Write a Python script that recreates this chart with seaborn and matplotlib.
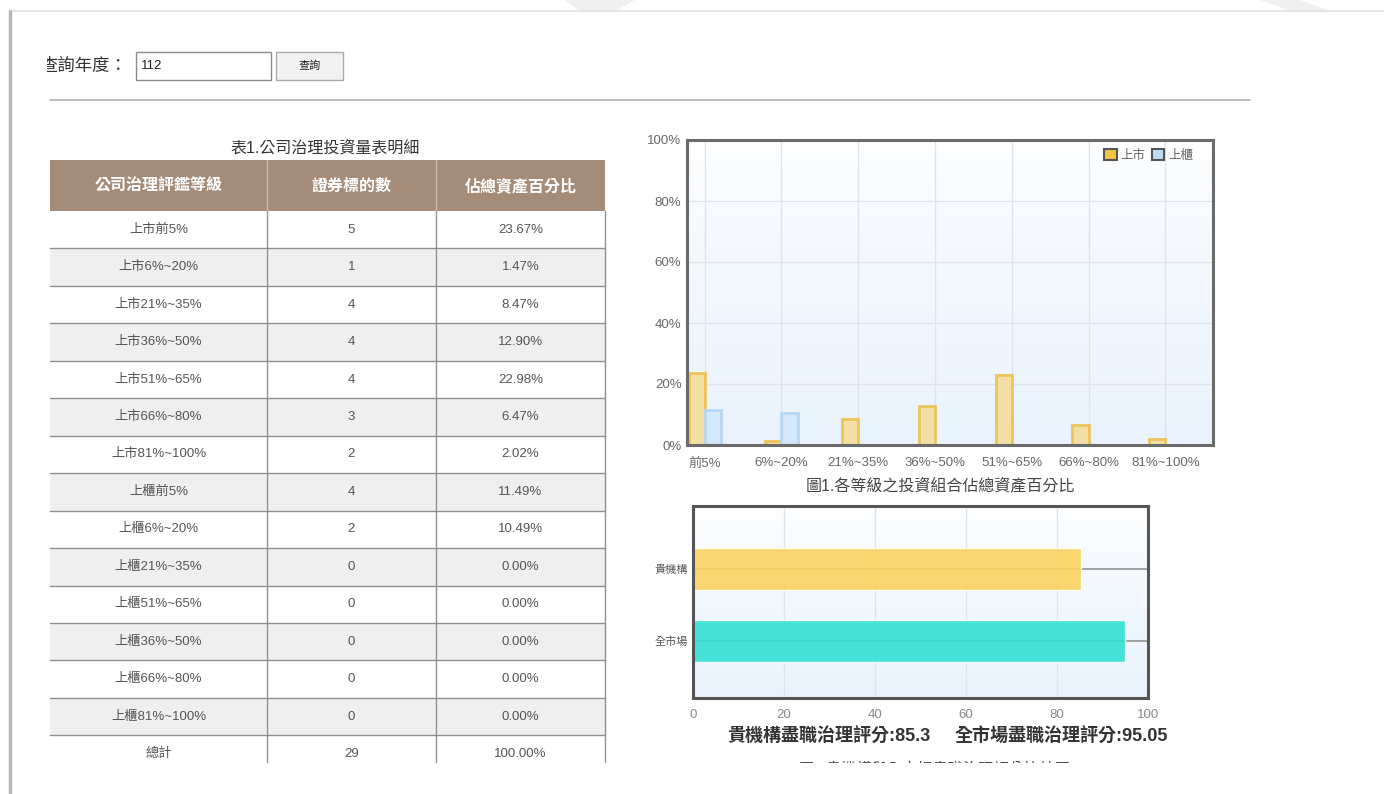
import numpy as np
import pandas as pd
import seaborn as sns
import matplotlib.pyplot as plt
from matplotlib.patches import Rectangle, Patch, Polygon
from matplotlib.colors import LinearSegmentedColormap
from matplotlib.transforms import Bbox, TransformedBbox

# table 1 rows
row_labels = ['上市前5%', '上市6%~20%', '上市21%~35%', '上市36%~50%', '上市51%~65%', '上市66%~80%',
              '上市81%~100%', '上櫃前5%', '上櫃6%~20%', '上櫃21%~35%', '上櫃51%~65%', '上櫃36%~50%',
              '上櫃66%~80%', '上櫃81%~100%', '總計']
row_counts = [5, 1, 4, 4, 4, 3, 2, 4, 2, 0, 0, 0, 0, 0, 29]
row_pcts = ['23.67%', '1.47%', '8.47%', '12.90%', '22.98%', '6.47%', '2.02%', '11.49%', '10.49%',
            '0.00%', '0.00%', '0.00%', '0.00%', '0.00%', '100.00%']
header = ['公司治理評鑑等級', '證券標的數', '佔總資產百分比']

# chart 1
grades = ['前5%', '6%~20%', '21%~35%', '36%~50%', '51%~65%', '66%~80%', '81%~100%']
listed_pct = [23.67, 1.47, 8.47, 12.90, 22.98, 6.47, 2.02]
otc_pct = [11.49, 10.49, 0, 0, 0, 0, 0]
markets = ['上市', '上櫃']

# chart 2
score_names = ['貴機構', '全市場']
scores = [85.3, 95.05]

sns.set_theme(style='white')
plt.rcParams['font.family'] = ['Liberation Sans', 'Noto Sans CJK TC', 'DejaVu Sans']

W, H = 1384, 794
fig = plt.figure(figsize=(W / 100, H / 100), dpi=100)
fig.patch.set_facecolor('white')


def px(x0, y0, x1, y1):
    return [x0 / W, 1 - y1 / H, (x1 - x0) / W, (y1 - y0) / H]


# page overlay in pixel coords
bg = fig.add_axes([0, 0, 1, 1], zorder=0)
bg.set_xlim(0, W)
bg.set_ylim(H, 0)
bg.axis('off')


def clipbox(x0, y0, x1, y1):
    return TransformedBbox(Bbox.from_extents(x0, y0, x1, y1), bg.transData)


bg.add_patch(Polygon([[565, 0], [635, 0], [615, 11], [580, 11]], closed=True, color='#f0f0f0', lw=0))
bg.add_patch(Polygon([[1260, 0], [1300, 0], [1330, 11], [1292, 11]], closed=True, color='#f0f0f0', lw=0))
bg.plot([10, W], [11, 11], color='#e4e4e4', lw=1.5)
bg.plot([10, 10], [11, H], color='#b8b8b8', lw=2.5)

t = bg.text(40, 66, '查詢年度：', fontsize=12.5, color='#333', va='center', ha='left', clip_on=True)
t.set_clip_box(clipbox(47, 40, 250, 90))
bg.add_patch(Rectangle((136, 52), 135, 28, facecolor='white', edgecolor='#8a8a8a', lw=1))
bg.text(141, 66, '112', fontsize=9.5, color='#222', va='center')
bg.add_patch(Rectangle((276, 52), 67, 28, facecolor='#f2f2f2', edgecolor='#aaaaaa', lw=1))
bg.text(309.5, 66, '查詢', fontsize=8, color='#222', va='center', ha='center')
bg.plot([50, 1250], [100, 100], color='#b5b5b5', lw=1.3)

# table
bg.text(325, 148, '表1.公司治理投資量表明細', fontsize=11.5, color='#333', ha='center', va='center')
col_edges = [50, 267, 436, 605]
col_mid = [(col_edges[i] + col_edges[i + 1]) / 2 for i in range(3)]
bg.add_patch(Rectangle((50, 160), 555, 51, facecolor='#a48c78', edgecolor='none'))
for x in col_edges[1:3]:
    bg.plot([x, x], [160, 211], color='#cbbcae', lw=1)
for i, h in enumerate(header):
    bg.text(col_mid[i], 186, h, fontsize=11.5, color='white', fontweight='bold', ha='center', va='center')

row_h = 37.45
top = 211
bottom = 762
for i, lab in enumerate(row_labels):
    y0 = top + i * row_h
    y1 = min(y0 + row_h, bottom)
    if i % 2 == 1:
        bg.add_patch(Rectangle((50, y0), 555, y1 - y0, facecolor='#efefef', edgecolor='none'))
    if i > 0:
        bg.plot([50, 605], [y0, y0], color='#8f8f8f', lw=1)
    yc = y0 + row_h / 2
    bg.text(col_mid[0], yc, lab, fontsize=9.5, color='#555', ha='center', va='center')
    bg.text(col_mid[1], yc, str(row_counts[i]), fontsize=9.5, color='#555', ha='center', va='center')
    bg.text(col_mid[2], yc, row_pcts[i], fontsize=9.5, color='#555', ha='center', va='center')
for x in col_edges[1:]:
    bg.plot([x, x], [top, bottom], color='#8f8f8f', lw=1)

# gradient for chart backgrounds (white at top, light blue at bottom)
grad_cmap = LinearSegmentedColormap.from_list('bgfill', ['#ffffff', '#eaf3fd'])
gradient = np.linspace(1, 0, 256).reshape(-1, 1) ** 0.7

# chart 1
ax1 = fig.add_axes(px(687, 140, 1213, 445), zorder=2)
df1 = pd.DataFrame({'grade': grades * 2,
                    'pct': listed_pct + otc_pct,
                    'market': [markets[0]] * len(grades) + [markets[1]] * len(grades)})
sns.barplot(data=df1, x='grade', y='pct', hue='market', hue_order=markets,
            palette=['#f3dea6', '#d4e8fa'], width=0.42, saturation=1, legend=False, ax=ax1)
for cont, ec in zip(ax1.containers, ['#ecc45a', '#b7d8f5']):
    for bar in cont:
        bar.set_edgecolor(ec)
        bar.set_linewidth(2)
x_lo, x_hi = -0.23, 6.62
ax1.imshow(gradient, extent=[x_lo, x_hi, 0, 100], aspect='auto', cmap=grad_cmap, origin='lower', zorder=0)
ax1.set_xlim(x_lo, x_hi)
ax1.set_ylim(0, 100)
ax1.set_yticks([0, 20, 40, 60, 80, 100])
ax1.set_yticklabels([f'{v}%' for v in [0, 20, 40, 60, 80, 100]])
ax1.set_axisbelow(True)
ax1.grid(True, color='#dfe4ea', lw=1)
ax1.set_xlabel('')
ax1.set_ylabel('')
ax1.tick_params(length=0, labelsize=9.5, labelcolor='#666')
ax1.tick_params(axis='x', pad=9)
ax1.tick_params(axis='y', pad=4)
for s in ax1.spines.values():
    s.set_color('#6a6a6a')
    s.set_linewidth(2.2)
handles = [Patch(facecolor='#f2c540', edgecolor='#555', lw=1.5),
           Patch(facecolor='#bfdcf5', edgecolor='#555', lw=1.5)]
ax1.legend(handles=handles, labels=markets, loc='upper right', ncol=2, frameon=False,
           bbox_to_anchor=(1 - 20 / 526, 1 - 9 / 305), fontsize=9, labelcolor='#666',
           handlelength=1.0, handleheight=1.0, handletextpad=0.3, columnspacing=0.5,
           borderpad=0, borderaxespad=0)
bg.text(940, 485, '圖1.各等級之投資組合佔總資產百分比', fontsize=11.5, color='#444', ha='center', va='center')

# chart 2
ax2 = fig.add_axes(px(693, 506, 1148, 698), zorder=2)
df2 = pd.DataFrame({'name': score_names, 'score': scores})
sns.barplot(data=df2, x='score', y='name', hue='name', palette=['#fcd25c', '#2fdfd1'],
            width=0.58, saturation=1, alpha=0.88, legend=False, ax=ax2)
y_lo, y_hi = 1.79, -0.875
ax2.imshow(gradient, extent=[0, 100, y_lo, y_hi], aspect='auto', cmap=grad_cmap, origin='lower', zorder=0)
ax2.set_xlim(0, 100)
ax2.set_ylim(y_lo, y_hi)
ax2.set_xticks([0, 20, 40, 60, 80, 100])
ax2.set_axisbelow(True)
ax2.grid(True, axis='x', color='#dfe4ea', lw=1)
ax2.grid(True, axis='y', color='#9a9a9a', lw=1.3)
ax2.set_xlabel('')
ax2.set_ylabel('')
ax2.tick_params(length=0)
ax2.tick_params(axis='x', labelsize=9.5, labelcolor='#888', pad=8)
ax2.tick_params(axis='y', labelsize=8, labelcolor='#555', pad=4)
for s in ax2.spines.values():
    s.set_color('#555')
    s.set_linewidth(2.2)

bg.text(829, 737, f'{score_names[0]}盡職治理評分:{scores[0]}', fontsize=13, fontweight='bold',
        color='#333', ha='center', va='center')
bg.text(1061, 737, f'{score_names[1]}盡職治理評分:{scores[1]}', fontsize=13, fontweight='bold',
        color='#333', ha='center', va='center')
t2 = bg.text(935, 769, '圖2.貴機構與全市場盡職治理評分比較圖', fontsize=11, color='#444',
             ha='center', va='center', clip_on=True)
t2.set_clip_box(clipbox(600, 740, 1300, 763))

fig.savefig('out.png', dpi=100)
